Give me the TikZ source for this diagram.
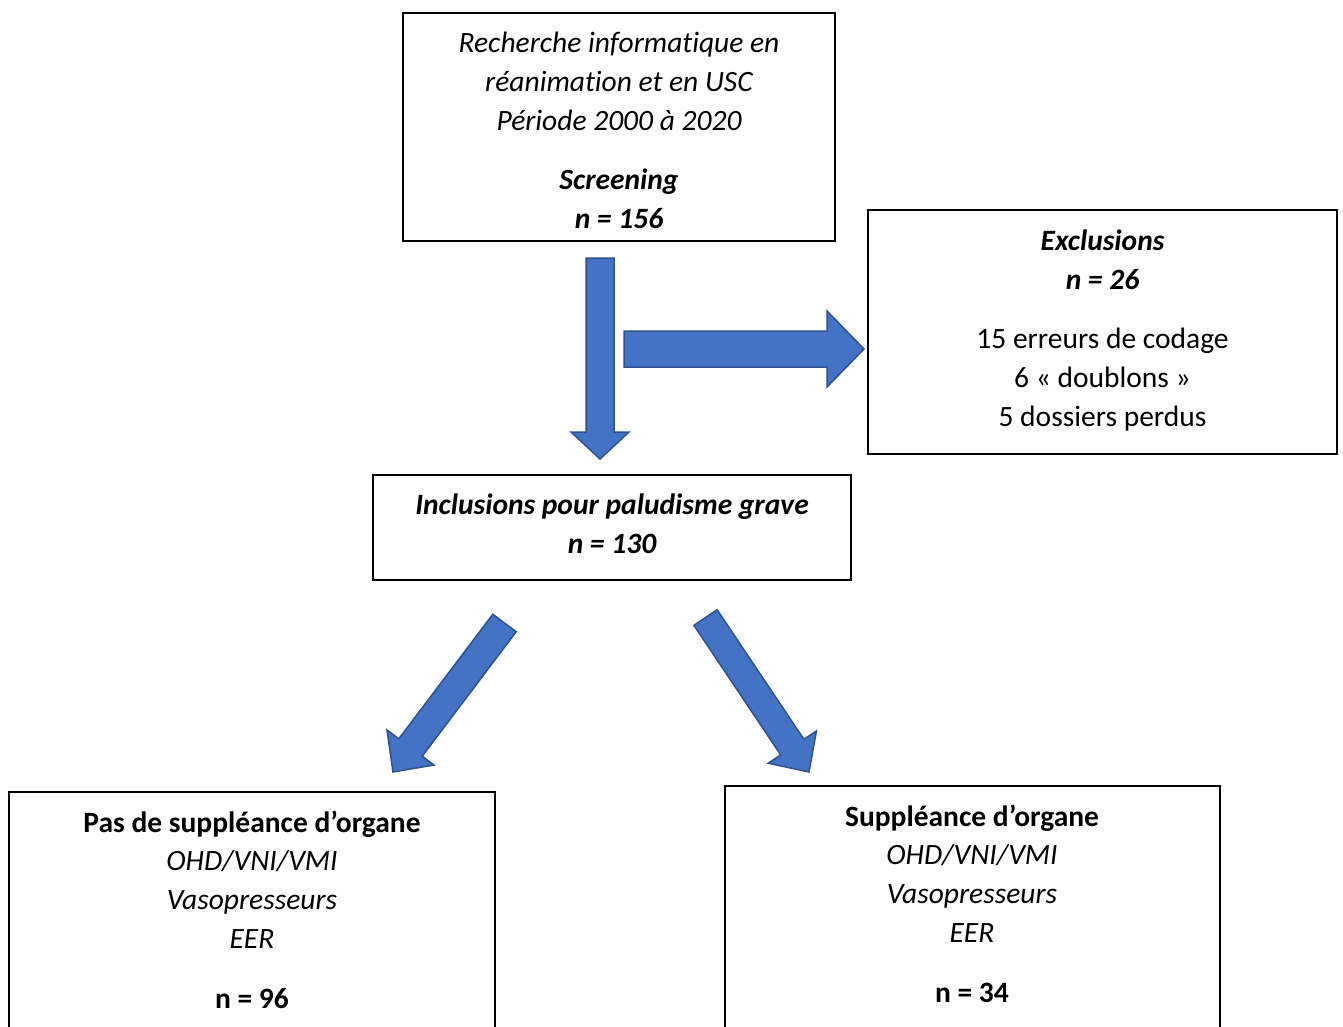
\documentclass[tikz,border=0pt]{standalone}
\usepackage{fontspec}
\setmainfont{Carlito}[Ligatures=NoCommon]
\definecolor{arrowfill}{HTML}{4472C4}
\definecolor{arrowline}{HTML}{2F528F}
\tikzset{
  box/.style={draw=black, line width=1.4bp, inner sep=0pt},
  txt/.style={align=center, inner sep=0pt, font=\fontsize{29.5bp}{38.8bp}\selectfont},
  blockarrow/.style={fill=arrowfill, draw=arrowline, line width=1.5bp, line join=miter},
  openbox/.style={draw=black, line width=1.4bp}
}
\begin{document}
\begin{tikzpicture}[x=1bp,y=-1bp]
\useasboundingbox (0,0) rectangle (1343,1026);
\fill[white] (0,0) rectangle (1343,1026);

% top box
\node[box, minimum width=432bp, minimum height=228bp] (screen) at (619,127) {};
\node[txt] (screentxt) at (619,130.5)
  {\itshape Recherche informatique en\\ \itshape réanimation et en USC\\ \itshape Période 2000 à 2020\\[21bp]
   \bfseries\itshape Screening\\ \bfseries\itshape n = 156};

% exclusions
\node[box, minimum width=469bp, minimum height=244bp] (excl) at (1102.5,332) {};
\node[txt] (excltxt) at (1102.5,330.5)
  {\bfseries\itshape Exclusions\\ \bfseries\itshape n = 26\\[21bp]
   15 erreurs de codage\\ 6 « doublons »\\ 5 dossiers perdus};

% inclusions
\node[box, minimum width=478bp, minimum height=105bp] (incl) at (612,527.5) {};
\node[txt] (incltxt) at (612,524)
  {\bfseries\itshape Inclusions pour paludisme grave\\ \bfseries\itshape n = 130};

% bottom boxes (open at the bottom edge of the picture)
\coordinate (lbox) at (252,792);
\coordinate (rbox) at (972.5,786);
\draw[openbox] (9,1032) -- (9,792) -- (495,792) -- (495,1032);
\draw[openbox] (725,1032) -- (725,786) -- (1220,786) -- (1220,1032);

\node[txt] (nosupp) at (252,909.5)
  {\bfseries Pas de suppléance d’organe\\ \itshape OHD/VNI/VMI\\ \itshape Vasopresseurs\\ \itshape EER\\[21bp]
   \bfseries n = 96};
\node[txt] (supp) at (972,903.5)
  {\bfseries Suppléance d’organe\\ \itshape OHD/VNI/VMI\\ \itshape Vasopresseurs\\ \itshape EER\\[21bp]
   \bfseries n = 34};

% block arrows
\draw[blockarrow] (586,258) -- (614,258) -- (614,432) -- (629,432) -- (600,459)
  -- (571,432) -- (586,432) -- cycle;
\draw[blockarrow] (624,331) -- (827,331) -- (827,311) -- (864,349) -- (827,387)
  -- (827,367) -- (624,367) -- cycle;
\draw[blockarrow] (492.8,614.3) -- (516.2,631.7) -- (422.2,756.2) -- (434,765)
  -- (393,772) -- (387,730) -- (398.8,738.8) -- cycle;
\draw[blockarrow] (717.1,609.7) -- (693.9,625.3) -- (780.7,754.9) -- (768.2,763.2)
  -- (809,772) -- (816.4,731) -- (803.9,739.3) -- cycle;
\end{tikzpicture}
\end{document}
